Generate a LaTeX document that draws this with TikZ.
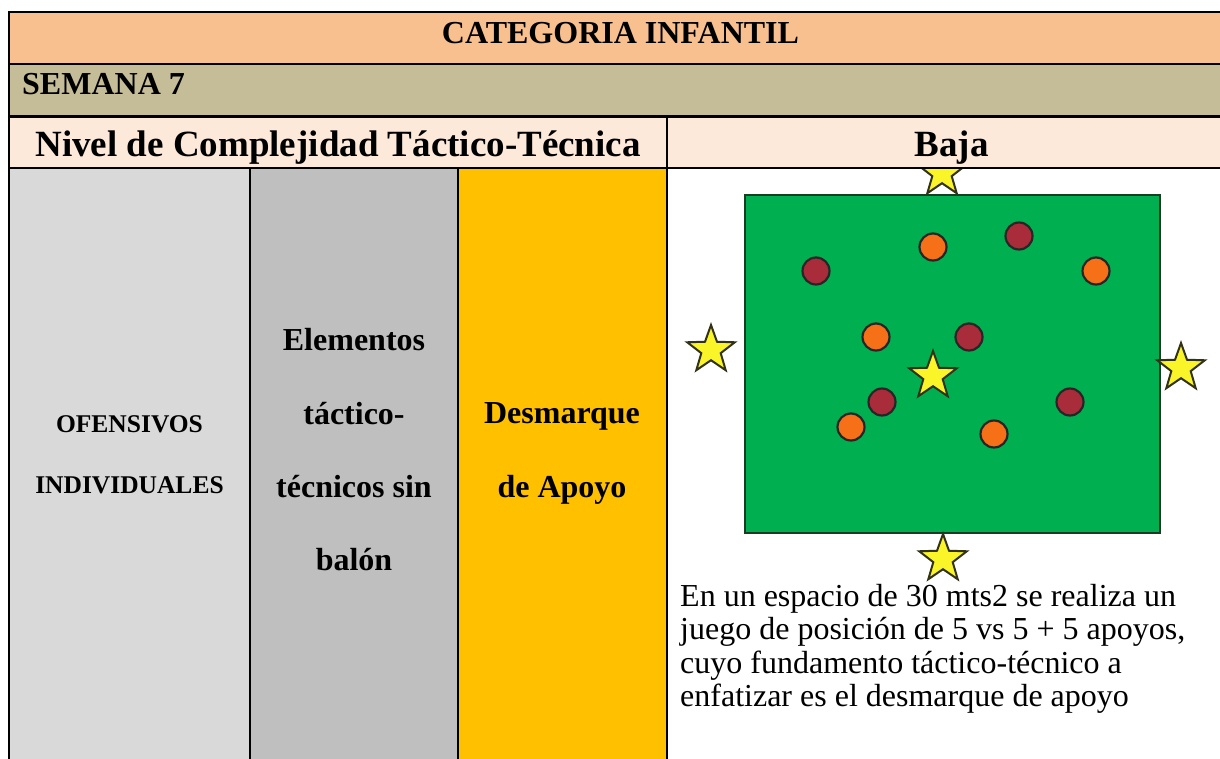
\documentclass[tikz,border=0pt]{standalone}
\usepackage{fontspec}
\setmainfont{Liberation Serif}
\usetikzlibrary{shapes.geometric}
\definecolor{hdrc}{RGB}{248,191,143}
\definecolor{semc}{RGB}{196,189,151}
\definecolor{rowc}{RGB}{253,233,217}
\definecolor{colA}{RGB}{217,217,217}
\definecolor{colB}{RGB}{191,191,191}
\definecolor{colC}{RGB}{255,192,0}
\definecolor{fieldc}{RGB}{0,176,80}
\definecolor{fieldedge}{RGB}{25,60,35}
\definecolor{orangec}{RGB}{245,112,22}
\definecolor{redc}{RGB}{168,44,58}
\definecolor{stary}{RGB}{250,245,40}
\definecolor{staredge}{RGB}{50,50,25}
\tikzset{
  grid/.style={line width=1.5pt, black},
  bigtxt/.style={font=\fontsize{32}{34}\selectfont\bfseries, inner sep=0, anchor=base},
  niveltxt/.style={font=\fontsize{37}{40}\selectfont\bfseries, inner sep=0, anchor=base},
  smalltxt/.style={font=\fontsize{25.5}{28}\selectfont\bfseries, inner sep=0, anchor=base},
  desctxt/.style={font=\fontsize{32}{34}\selectfont, inner sep=0, anchor=base west},
  sstar/.style={star, star points=5, star point ratio=2.45, minimum size=50pt, inner sep=0pt,
    draw=staredge, line width=2pt, fill=stary},
  ocirc/.style={circle, minimum size=27pt, inner sep=0pt, draw=black!85, line width=2.2pt, fill=orangec},
  rcirc/.style={circle, minimum size=27pt, inner sep=0pt, draw=black!85, line width=2.2pt, fill=redc}
}
\begin{document}
\begin{tikzpicture}[x=1pt,y=-1pt]
\clip (0,0) rectangle (1220,759);
% cell fills
\fill[hdrc] (9,12) rectangle (1240,64);
\fill[semc] (9,64) rectangle (1240,116);
\fill[rowc] (9,117) rectangle (1240,168);
\fill[colA] (9,168) rectangle (250,770);
\fill[colB] (250,168) rectangle (458,770);
\fill[colC] (458,168) rectangle (667,770);
% field drawing
\begin{scope}
\clip (667,168) rectangle (1240,770);
\draw[fill=fieldc, draw=fieldedge, line width=2.5pt] (745,195) rectangle (1160,533);
\node[sstar] (stop) at (942,173) {};
\node[sstar] (sleft) at (711,350) {};
\node[sstar] (sright) at (1181,368) {};
\node[sstar] (scenter) at (933,376) {};
\node[sstar] (sbottom) at (943,559) {};
\node[ocirc] (o1) at (933,247) {};
\node[ocirc] (o2) at (1096,271) {};
\node[ocirc] (o3) at (876,337) {};
\node[ocirc] (o4) at (851,427) {};
\node[ocirc] (o5) at (994,434) {};
\node[rcirc] (r1) at (816,271) {};
\node[rcirc] (r2) at (1019,236) {};
\node[rcirc] (r3) at (969,337) {};
\node[rcirc] (r4) at (882,402) {};
\node[rcirc] (r5) at (1070,402) {};
\end{scope}
% borders
\draw[grid] (9,12) rectangle (1240,116);
\draw[grid] (9,64) -- (1240,64);
\draw[grid] (9,117) rectangle (1240,770);
\draw[grid] (9,168) -- (1240,168);
\draw[grid] (667,117) -- (667,770);
\draw[grid] (250,168) -- (250,770);
\draw[grid] (458,168) -- (458,770);
% texts
\node[bigtxt] (title) at (620.5,43.3) {CATEGORIA INFANTIL};
\node[bigtxt, anchor=base west] (semana) at (22,95) {SEMANA 7};
\node[niveltxt] (nivel) at (338,156.7) {Nivel de Complejidad Táctico-Técnica};
\node[niveltxt] (baja) at (951.5,156.7) {Baja};
\node[smalltxt] (ofe1) at (129.5,432.5) {OFENSIVOS};
\node[smalltxt] (ofe2) at (129.5,493) {INDIVIDUALES};
\node[bigtxt] (ele1) at (354,350) {Elementos};
\node[bigtxt] (ele2) at (354,424) {táctico-};
\node[bigtxt] (ele3) at (354,497) {técnicos sin};
\node[bigtxt] (ele4) at (354,570.6) {balón};
\node[bigtxt] (des1) at (562,423.3) {Desmarque};
\node[bigtxt] (des2) at (562,497) {de Apoyo};
\node[desctxt] (d1) at (680,606) {En un espacio de 30 mts2 se realiza un};
\node[desctxt] (d2) at (680,639.5) {juego de posición de 5 vs 5 + 5 apoyos,};
\node[desctxt] (d3) at (680,673) {cuyo fundamento táctico-técnico a};
\node[desctxt] (d4) at (680,706.5) {enfatizar es el desmarque de apoyo};
\end{tikzpicture}
\end{document}
